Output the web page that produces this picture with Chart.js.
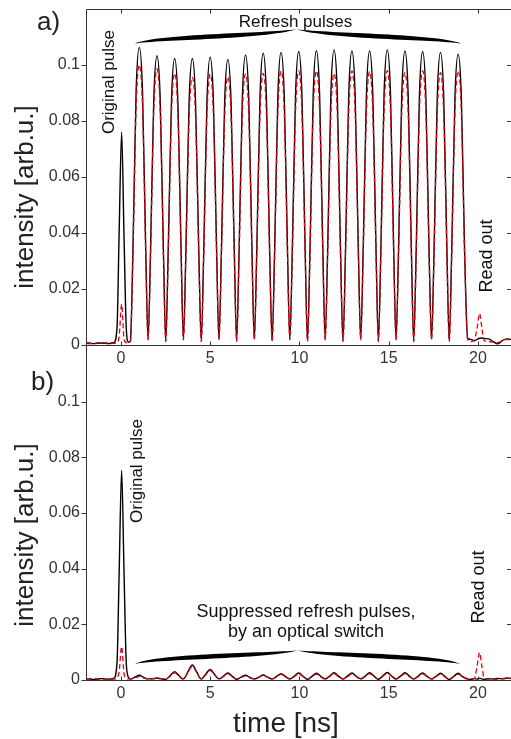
<!DOCTYPE html>
<html><head><meta charset="utf-8">
<script src="https://cdn.jsdelivr.net/npm/chart.js@4.4.1/dist/chart.umd.min.js"></script>
<style>
html,body{margin:0;padding:0;background:#fff;width:511px;height:739px;overflow:hidden;}
#wa{position:absolute;left:0;top:0;width:511px;height:380px;}
#wb{position:absolute;left:0;top:340px;width:511px;height:399px;}
</style></head><body>
<div id="wa"><canvas id="ca"></canvas></div>
<div id="wb"><canvas id="cb"></canvas></div>
<script>
// ---------- axes ----------
const xTicks = [0, 5, 10, 15, 20];
const yTicks = [0, 0.02, 0.04, 0.06, 0.08, 0.1];
const yTickLabels = ['0', '0.02', '0.04', '0.06', '0.08', '0.1'];

// ---------- panel a : time samples (ns) ----------
const tA = [
 -1.9,-1.5,-1.1,-0.7,-0.4,-0.22,-0.1,0.04,0.17,0.3,0.42,
 0.53,0.67,0.85,1.03,1.21,1.39,
 1.52,1.66,1.84,2.02,2.20,2.38,
 2.51,2.65,2.83,3.01,3.19,3.37,
 3.50,3.64,3.82,4.00,4.18,4.36,
 4.50,4.64,4.82,5.00,5.18,5.36,
 5.49,5.63,5.81,5.99,6.17,6.35,
 6.48,6.62,6.80,6.98,7.16,7.34,
 7.47,7.61,7.79,7.97,8.15,8.33,
 8.47,8.61,8.79,8.97,9.15,9.33,
 9.46,9.60,9.78,9.96,10.14,10.32,
 10.45,10.59,10.77,10.95,11.13,11.31,
 11.44,11.58,11.76,11.94,12.12,12.30,
 12.44,12.58,12.76,12.94,13.12,13.30,
 13.43,13.57,13.75,13.93,14.11,14.29,
 14.42,14.56,14.74,14.92,15.10,15.28,
 15.41,15.55,15.73,15.91,16.09,16.27,
 16.40,16.54,16.72,16.90,17.08,17.26,
 17.40,17.54,17.72,17.90,18.08,18.26,
 18.39,18.53,18.71,18.89,19.07,19.25,
 19.42,19.6,19.8,19.95,20.09,20.22,20.35,20.6,20.85,21.1,21.35,21.6,21.85
];
// panel a : black solid trace
const aBlack = [
 0.0006,0.0005,0.0007,0.0005,0.0008,0.006,0.040,0.076,0.040,0.006,0.001,
 0.0015,0.033,0.0904,0.1063,0.0904,0.034,
 0.002,0.034,0.0878,0.1033,0.0878,0.034,
 0.0015,0.034,0.0870,0.1023,0.0870,0.034,
 0.002,0.034,0.0870,0.1023,0.0870,0.034,
 0.0015,0.034,0.0874,0.1028,0.0874,0.034,
 0.002,0.034,0.0867,0.1020,0.0867,0.034,
 0.0015,0.034,0.0881,0.1036,0.0881,0.034,
 0.002,0.034,0.0886,0.1042,0.0886,0.034,
 0.0015,0.034,0.0888,0.1045,0.0888,0.034,
 0.002,0.034,0.0891,0.1048,0.0891,0.034,
 0.0015,0.034,0.0893,0.1051,0.0893,0.034,
 0.002,0.034,0.0896,0.1054,0.0896,0.034,
 0.0015,0.034,0.0893,0.1050,0.0893,0.034,
 0.002,0.034,0.0893,0.1050,0.0893,0.034,
 0.0015,0.034,0.0896,0.1054,0.0896,0.034,
 0.002,0.034,0.0893,0.1050,0.0893,0.034,
 0.0015,0.034,0.0891,0.1048,0.0891,0.034,
 0.002,0.034,0.0888,0.1045,0.0888,0.034,
 0.0015,0.034,0.0883,0.1039,0.0883,0.034,
 0.0025,0.002,0.0015,0.002,0.0024,0.0025,0.0023,0.0022,0.0012,0.0004,0.0015,0.0022,0.002
];
// panel a : red dashed trace
const aRed = [
 0.0008,0.0006,0.0009,0.0007,0.0006,0.0008,0.003,0.0145,0.0025,0.0008,0.0008,
 0.0012,0.031,0.0850,0.1000,0.0850,0.032,
 0.0018,0.032,0.0838,0.0986,0.0838,0.032,
 0.0012,0.032,0.0825,0.0970,0.0825,0.032,
 0.0018,0.032,0.0813,0.0956,0.0813,0.032,
 0.0012,0.032,0.0823,0.0968,0.0823,0.032,
 0.0018,0.032,0.0814,0.0958,0.0814,0.032,
 0.0012,0.032,0.0823,0.0968,0.0823,0.032,
 0.0018,0.032,0.0825,0.0970,0.0825,0.032,
 0.0012,0.032,0.0832,0.0979,0.0832,0.032,
 0.0018,0.032,0.0832,0.0979,0.0832,0.032,
 0.0012,0.032,0.0832,0.0979,0.0832,0.032,
 0.0018,0.032,0.0825,0.0970,0.0825,0.032,
 0.0012,0.032,0.0832,0.0979,0.0832,0.032,
 0.0018,0.032,0.0830,0.0977,0.0830,0.032,
 0.0012,0.032,0.0833,0.0980,0.0833,0.032,
 0.0018,0.032,0.0827,0.0973,0.0827,0.032,
 0.0012,0.032,0.0832,0.0979,0.0832,0.032,
 0.0018,0.032,0.0827,0.0973,0.0827,0.032,
 0.0012,0.032,0.0832,0.0979,0.0832,0.032,
 0.002,0.0012,0.0018,0.006,0.0113,0.006,0.0015,0.0012,0.001,0.0008,0.0015,0.002,0.0015
];

// ---------- panel b : time samples (ns) ----------
const tB = [
 -1.9,-1.5,-1.1,-0.7,-0.4,-0.22,-0.1,0.04,0.17,0.3,0.42,
 0.53,0.78,1.03,1.28,
 1.52,1.77,2.02,2.27,
 2.51,2.76,3.01,3.26,
 3.50,3.75,4.00,4.25,
 4.50,4.75,5.00,5.25,
 5.49,5.74,5.99,6.24,
 6.48,6.73,6.98,7.23,
 7.47,7.72,7.97,8.22,
 8.47,8.72,8.97,9.22,
 9.46,9.71,9.96,10.21,
 10.45,10.70,10.95,11.20,
 11.44,11.69,11.94,12.19,
 12.44,12.69,12.94,13.19,
 13.43,13.68,13.93,14.18,
 14.42,14.67,14.92,15.17,
 15.41,15.66,15.91,16.16,
 16.40,16.65,16.90,17.15,
 17.40,17.65,17.90,18.15,
 18.39,18.64,18.89,19.14,
 19.42,19.6,19.8,19.95,20.09,20.22,20.35,20.6,20.85,21.1,21.35,21.6,21.85
];
const bBlack = [
 0.0004,0.0002,0.0005,0.0003,0.0006,0.006,0.038,0.0754,0.040,0.006,0.001,
 0.0003,0.0010,0.0017,0.0009,
 0.0004,0.0005,0.0007,0.0004,
 0.0002,0.0016,0.0030,0.0015,
 0.0004,0.0029,0.0054,0.0028,
 0.0003,0.0021,0.0038,0.0020,
 0.0004,0.0014,0.0025,0.0013,
 0.0002,0.0010,0.0017,0.0009,
 0.0004,0.0010,0.0018,0.0010,
 0.0003,0.0013,0.0023,0.0012,
 0.0004,0.0014,0.0025,0.0013,
 0.0002,0.0013,0.0024,0.0013,
 0.0004,0.0014,0.0026,0.0014,
 0.0003,0.0014,0.0025,0.0013,
 0.0004,0.0014,0.0026,0.0014,
 0.0002,0.0015,0.0027,0.0014,
 0.0004,0.0014,0.0026,0.0014,
 0.0003,0.0014,0.0025,0.0013,
 0.0004,0.0013,0.0024,0.0013,
 0.0002,0.0013,0.0024,0.0012,
 0.0004,0.0002,0.0005,0.0003,0.0006,0.0004,0.0002,0.0005,0.0003,0.0006,0.0004,0.0007,0.0005
];
const bRed = [
 0.0003,0.0005,0.0002,0.0004,0.0003,0.0007,0.003,0.012,0.0025,0.0006,0.0004,
 0.0004,0.0008,0.0012,0.0007,
 0.0003,0.0004,0.0005,0.0005,
 0.0004,0.0014,0.0026,0.0013,
 0.0003,0.0027,0.0050,0.0026,
 0.0004,0.0019,0.0034,0.0018,
 0.0003,0.0012,0.0022,0.0012,
 0.0004,0.0009,0.0015,0.0008,
 0.0003,0.0009,0.0016,0.0009,
 0.0004,0.0011,0.0020,0.0011,
 0.0003,0.0012,0.0022,0.0012,
 0.0004,0.0012,0.0021,0.0011,
 0.0003,0.0013,0.0023,0.0012,
 0.0004,0.0012,0.0022,0.0012,
 0.0003,0.0013,0.0023,0.0012,
 0.0004,0.0013,0.0024,0.0013,
 0.0003,0.0013,0.0023,0.0012,
 0.0004,0.0012,0.0022,0.0012,
 0.0003,0.0012,0.0021,0.0011,
 0.0004,0.0012,0.0021,0.0011,
 0.0003,0.0004,0.0006,0.005,0.0098,0.005,0.0006,0.0003,0.0005,0.0002,0.0006,0.0004,0.0008
];

// ---------- annotations (data coordinates) ----------
const bracesA = [{x0: 0.78, x1: 19.07, xm: 9.83, yEnd: 0.1077, yFlat: 0.1102, yTip: 0.1128}];
const bracesB = [{x0: 0.78, x1: 19.03, xm: 9.90, yEnd: 0.0058, yFlat: 0.0086, yTip: 0.0106}];
const textsA = [
 {text: 'Refresh pulses', x: 9.78, y: 0.1135, rot: 0, size: 17},
 {text: 'Original pulse', x: -0.39, y: 0.0939, rot: -90, size: 17},
 {text: 'Read out', x: 20.78, y: 0.0318, rot: -90, size: 18}
];
const textsB = [
 {text: 'Original pulse', x: 1.20, y: 0.0751, rot: -90, size: 17},
 {text: 'Read out', x: 20.36, y: 0.0334, rot: -90, size: 18},
 {text: 'Suppressed refresh pulses,', x: 10.37, y: 0.0226, rot: 0, size: 18},
 {text: 'by an optical switch', x: 10.37, y: 0.01545, rot: 0, size: 18}
];

const FONT = "'Liberation Sans', Arial, Helvetica, sans-serif";

function pairs(t, v) { return t.map((x, i) => ({x: x, y: v[i]})); }

function halfBrace(ctx, xa, xm, yE, yF, yT, th) {
  const L = xm - xa;
  const p1x = xa + 0.15 * L, p2x = xm - 0.2 * L;
  ctx.beginPath();
  ctx.moveTo(xa, yE);
  ctx.bezierCurveTo(p1x, yF - th, p2x, yF - th, xm, yT);
  ctx.bezierCurveTo(p2x, yF + th, p1x, yF + th, xa, yE);
  ctx.closePath();
  ctx.fill();
}

function makeDecor(cfg) {
  return {
    id: 'decor_' + cfg.name,
    afterDraw(chart) {
      const ctx = chart.ctx, a = chart.chartArea;
      const xs = chart.scales.x, ys = chart.scales.y;
      ctx.save();
      // frame and ticks
      ctx.strokeStyle = '#333';
      ctx.lineWidth = 1;
      ctx.beginPath();
      const L = Math.round(a.left) - 0.5, B = Math.round(a.bottom) + 0.5, T = Math.round(a.top) + 0.5, R = a.right;
      ctx.moveTo(L, cfg.topBorder ? T : a.top - 1); ctx.lineTo(L, B);
      ctx.moveTo(L, B); ctx.lineTo(R, B);
      if (cfg.topBorder) { ctx.moveTo(L, T); ctx.lineTo(R, T); }
      yTicks.forEach(v => {
        const py = Math.round(ys.getPixelForValue(v)) + 0.5;
        ctx.moveTo(L - 5, py); ctx.lineTo(L, py);
        ctx.moveTo(R - 4, py); ctx.lineTo(R, py);
      });
      xTicks.forEach(v => {
        const px = Math.round(xs.getPixelForValue(v)) + 0.5;
        ctx.moveTo(px, B); ctx.lineTo(px, B - 4);
        if (cfg.topBorder) { ctx.moveTo(px, T); ctx.lineTo(px, T + 4); }
      });
      ctx.stroke();
      // braces
      ctx.fillStyle = '#000';
      cfg.braces.forEach(b => {
        const x0 = xs.getPixelForValue(b.x0), x1 = xs.getPixelForValue(b.x1), xm = xs.getPixelForValue(b.xm);
        const yE = ys.getPixelForValue(b.yEnd), yF = ys.getPixelForValue(b.yFlat), yT = ys.getPixelForValue(b.yTip);
        halfBrace(ctx, x0, xm, yE, yF, yT, 3);
        halfBrace(ctx, x1, xm, yE, yF, yT, 3);
      });
      // annotation texts
      cfg.texts.forEach(t => {
        const px = xs.getPixelForValue(t.x), py = ys.getPixelForValue(t.y);
        ctx.font = t.size + 'px ' + FONT;
        ctx.fillStyle = '#111';
        ctx.save();
        ctx.translate(px, py);
        if (t.rot) ctx.rotate(t.rot * Math.PI / 180);
        ctx.textAlign = 'center'; ctx.textBaseline = 'alphabetic';
        ctx.fillText(t.text, 0, 0);
        ctx.restore();
      });
      // axis titles and panel labels (pixel placement)
      ctx.fillStyle = '#222';
      ctx.font = '26px ' + FONT;
      ctx.save();
      ctx.translate(33, cfg.yTitleCenter);
      ctx.rotate(-Math.PI / 2);
      ctx.textAlign = 'center'; ctx.textBaseline = 'alphabetic';
      ctx.fillText('intensity [arb.u.]', 0, 0);
      ctx.restore();
      ctx.textAlign = 'left'; ctx.textBaseline = 'alphabetic';
      ctx.fillText(cfg.panel, cfg.panelX, cfg.panelY);
      if (cfg.xTitle) {
        ctx.font = '28px ' + FONT;
        ctx.textAlign = 'center';
        ctx.fillText(cfg.xTitle, 286, cfg.xTitleY);
      }
      ctx.restore();
    }
  };
}

function makeChart(id, t, black, red, xAxisHeight, padTop, decor) {
  return new Chart(document.getElementById(id), {
    type: 'line',
    data: {
      datasets: [
        {label: 'red', data: pairs(t, red), borderColor: '#e3000f', borderWidth: 1.3, borderDash: [5, 3],
         pointRadius: 0, fill: false, cubicInterpolationMode: 'monotone'},
        {label: 'black', data: pairs(t, black), borderColor: '#000', borderWidth: 1.4,
         pointRadius: 0, fill: false, cubicInterpolationMode: 'monotone'}
      ]
    },
    options: {
      responsive: true, maintainAspectRatio: false, animation: false,
      layout: {padding: {top: padTop, left: 0, right: 0, bottom: 0}},
      plugins: {legend: {display: false}, tooltip: {enabled: false}},
      scales: {
        x: {
          type: 'linear', min: -1.9, max: 21.85,
          afterBuildTicks: s => { s.ticks = xTicks.map(v => ({value: v})); },
          afterFit: s => { s.height = xAxisHeight; s.paddingLeft = 0; s.paddingRight = 0; },
          grid: {display: false, drawTicks: false}, border: {display: false},
          ticks: {font: {family: FONT, size: 16}, color: '#333', padding: 4, maxRotation: 0, autoSkip: false,
                  callback: v => String(v)}
        },
        y: {
          min: 0, max: 0.12,
          afterBuildTicks: s => { s.ticks = yTicks.map(v => ({value: v})); },
          afterFit: s => { s.width = 87; s.paddingTop = 0; s.paddingBottom = 0; },
          grid: {display: false, drawTicks: false}, border: {display: false},
          ticks: {font: {family: FONT, size: 16}, color: '#333', padding: 7, autoSkip: false,
                  callback: (v, i) => yTickLabels[i]}
        }
      }
    },
    plugins: [decor]
  });
}

makeChart('ca', tA, aBlack, aRed, 35, 9, makeDecor({
  name: 'a', topBorder: true, braces: bracesA, texts: textsA,
  yTitleCenter: 197, panel: 'a)', panelX: 37, panelY: 30, xTitle: null
}));
makeChart('cb', tB, bBlack, bRed, 59, 6, makeDecor({
  name: 'b', topBorder: false, braces: bracesB, texts: textsB,
  yTitleCenter: 535 - 340, panel: 'b)', panelX: 31, panelY: 390 - 340, xTitle: 'time [ns]', xTitleY: 732 - 340
}));
</script>
</body></html>
